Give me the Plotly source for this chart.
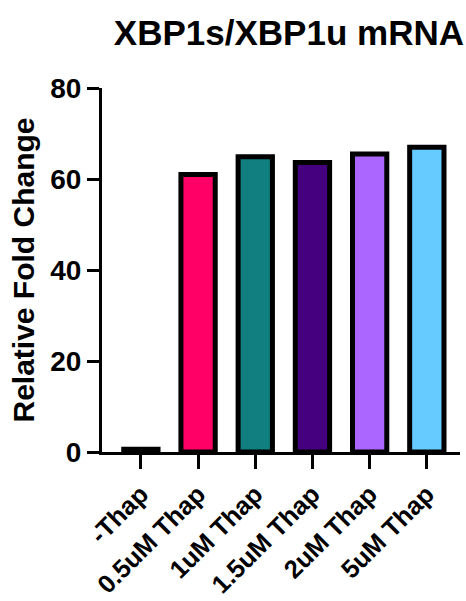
import plotly.graph_objects as go

# Relative XBP1s/XBP1u mRNA levels per thapsigargin dose
categories = ["-Thap", "0.5uM Thap", "1uM Thap", "1.5uM Thap", "2uM Thap", "5uM Thap"]
fold_change = [0.6, 61.0, 64.9, 63.6, 65.5, 67.0]
bar_colors = ["#000000", "#FF0066", "#117F7F", "#44007F", "#AA66FF", "#66CCFF"]
y_ticks = [0, 20, 40, 60, 80]

FONT = "Arial, Liberation Sans, sans-serif"

fig = go.Figure(
    go.Bar(
        x=categories,
        y=fold_change,
        marker=dict(color=bar_colors, line=dict(color="black", width=5)),
        width=0.6,
    )
)

fig.update_layout(
    width=466,
    height=601,
    margin=dict(l=102, r=6, t=88, b=149),
    plot_bgcolor="white",
    paper_bgcolor="white",
    showlegend=False,
    title=dict(
        text="<b>XBP1s/XBP1u mRNA</b>",
        font=dict(family=FONT, size=35, color="black"),
        x=0.62,
        xanchor="center",
        y=0.945,
        yanchor="middle",
    ),
    font=dict(family=FONT, color="black"),
)

fig.update_xaxes(
    range=[-0.68, 5.58],
    automargin=False,
    showline=True,
    linecolor="black",
    linewidth=3,
    ticks="outside",
    ticklen=14,
    tickwidth=3,
    tickcolor="black",
    tickangle=-45,
    tickfont=dict(family=FONT, size=25.5, color="black", weight="bold"),
    showgrid=False,
    zeroline=False,
)

fig.update_yaxes(
    range=[0, 80],
    automargin=False,
    tickvals=y_ticks,
    showline=True,
    linecolor="black",
    linewidth=3,
    ticks="outside",
    ticklen=12,
    tickwidth=3,
    tickcolor="black",
    tickfont=dict(family=FONT, size=28, color="black", weight="bold"),
    title=dict(
        text="<b>Relative Fold Change</b>",
        font=dict(family=FONT, size=30, color="black"),
        standoff=7,
    ),
    showgrid=False,
    zeroline=False,
)

fig.write_html("out.html")
